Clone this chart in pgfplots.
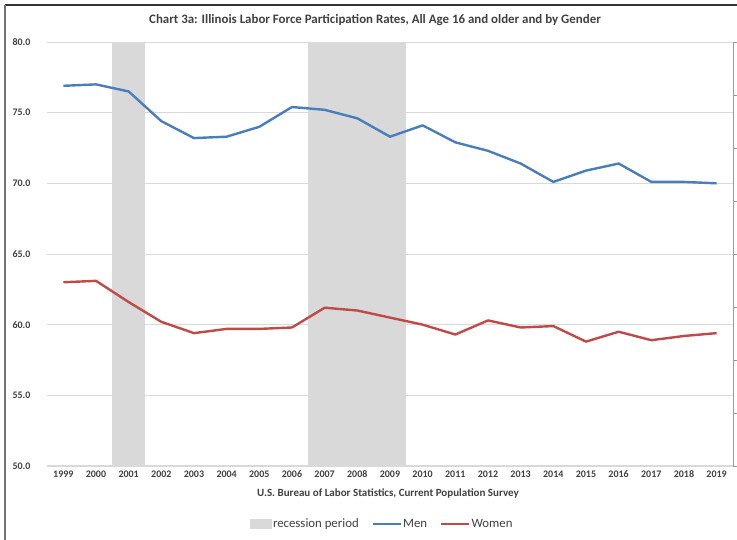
\documentclass[border=0pt]{standalone}
\usepackage{pgfplots}
\pgfplotsset{compat=1.18}
\usepackage{fontspec}
\setmainfont{Carlito}
\definecolor{menblue}{HTML}{4A7EBB}
\definecolor{womenred}{HTML}{BE4B48}
\definecolor{recess}{HTML}{D9D9D9}
\definecolor{txt}{HTML}{404040}
\definecolor{gridc}{HTML}{D9D9D9}

\begin{document}
\begin{tikzpicture}[x=1pt,y=1pt]
\useasboundingbox (0,0) rectangle (737,540);
\draw[black!80, line width=1.3pt] (5,535) -- (737,535);
\draw[black!55, line width=1.3pt] (5,535) -- (5,0);
\node[font=\fontsize{12.9}{14}\selectfont\bfseries, text=txt] at (375,520)
  {Chart 3a: Illinois Labor Force Participation Rates, All Age 16 and older and by Gender};

% right-hand axis: ticks only
\begin{axis}[
  at={(47pt,74pt)}, anchor=south west,
  width=686pt, height=424pt, scale only axis,
  xmin=0, xmax=1, ymin=0, ymax=8,
  axis x line=none, axis y line*=right,
  y axis line style={draw=black!40, line width=1pt},
  ytick={0,...,8}, yticklabels={},
  tick align=outside, major tick length=5pt,
  ytick style={draw=black!40, line width=0.8pt},
]
\end{axis}

\begin{axis}[
  at={(47pt,74pt)}, anchor=south west,
  width=686pt, height=424pt, scale only axis,
  xmin=1998.5, xmax=2019.5, ymin=50, ymax=80,
  xtick={1999,...,2019}, ytick={50,55,...,80},
  axis x line*=bottom, axis y line*=left,
  y axis line style={draw=none},
  x axis line style={draw=gridc, line width=1.3pt, -},
  major tick length=0pt,
  ymajorgrids, grid style={gridc, line width=0.9pt},
  /pgf/number format/assume math mode=true,
  xticklabel={\pgfmathprintnumber[1000 sep={},fixed,precision=0]{\tick}},
  yticklabel={\pgfmathprintnumber[fixed,fixed zerofill,precision=1]{\tick}},
  tick label style={font=\fontsize{10}{11}\selectfont\bfseries, text=txt},
  yticklabel shift=13pt, xticklabel shift=1.5pt,
  xlabel={U.S. Bureau of Labor Statistics, Current Population Survey},
  xlabel style={at={(axis description cs:0.497,-0.066)}, anchor=center,
    font=\fontsize{11}{12}\selectfont\bfseries, text=txt},
  legend style={at={(0.488,-0.137)}, anchor=center, legend columns=-1,
    draw=none, font=\fontsize{12.8}{14}\selectfont, text=txt,
    nodes={inner xsep=1pt},
    /tikz/every even column/.append style={column sep=12pt}},
  legend image code/.code={\draw[#1] (0pt,0pt) -- (28pt,0pt);},
]
\addplot[fill=recess, draw=none, area legend,
  legend image code/.code={\fill[recess] (0pt,-5pt) rectangle (22pt,5pt);}]
  coordinates {(2000.5,50) (2000.5,80) (2001.5,80) (2001.5,50)} -- cycle;
\addlegendentry{recession period}
\addplot[fill=recess, draw=none, forget plot]
  coordinates {(2006.5,50) (2006.5,80) (2009.5,80) (2009.5,50)} -- cycle;

\addplot[menblue, line width=2.4pt, line join=round] coordinates {
(1999,76.9) (2000,77.0) (2001,76.5) (2002,74.4) (2003,73.2) (2004,73.3)
(2005,74.0) (2006,75.4) (2007,75.2) (2008,74.6) (2009,73.3) (2010,74.1)
(2011,72.9) (2012,72.3) (2013,71.4) (2014,70.1) (2015,70.9) (2016,71.4)
(2017,70.1) (2018,70.1) (2019,70.0)};
\addlegendentry{Men}

\addplot[womenred, line width=2.4pt, line join=round] coordinates {
(1999,63.0) (2000,63.1) (2001,61.6) (2002,60.2) (2003,59.4) (2004,59.7)
(2005,59.7) (2006,59.8) (2007,61.2) (2008,61.0) (2009,60.5) (2010,60.0)
(2011,59.3) (2012,60.3) (2013,59.8) (2014,59.9) (2015,58.8) (2016,59.5)
(2017,58.9) (2018,59.2) (2019,59.4)};
\addlegendentry{Women}
\end{axis}
\end{tikzpicture}
\end{document}
